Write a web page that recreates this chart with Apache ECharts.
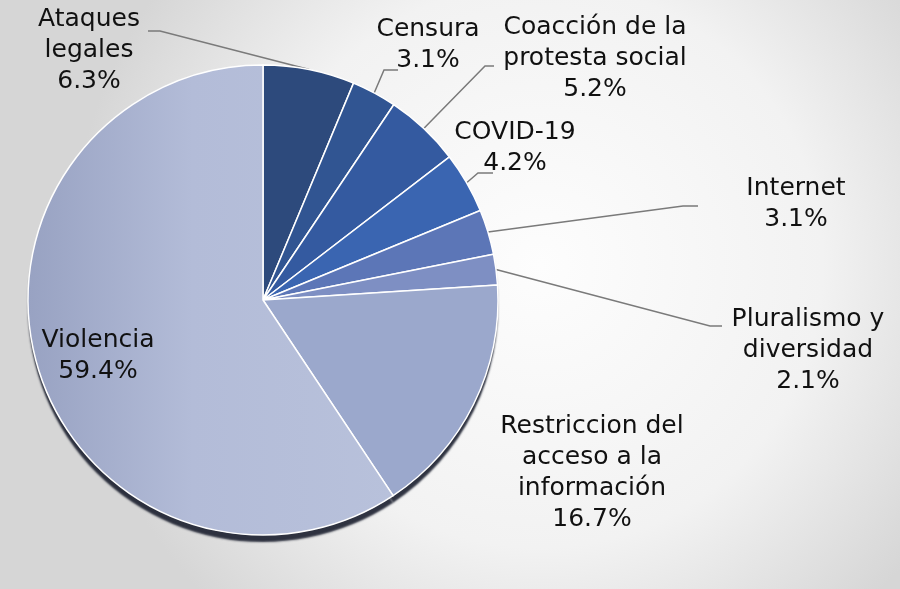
<!DOCTYPE html>
<html>
<head>
<meta charset="utf-8">
<script src="https://cdn.jsdelivr.net/npm/echarts@6/dist/echarts.min.js"></script>
<style>
  html, body { margin: 0; padding: 0; }
  #chart { width: 900px; height: 589px; }
</style>
</head>
<body>
<div id="chart"></div>
<script>
const categories = [
  'Ataques\nlegales',
  'Censura',
  'Coacción de la\nprotesta social',
  'COVID-19',
  'Internet',
  'Pluralismo y\ndiversidad',
  'Restriccion del\nacceso a la\ninformación',
  'Violencia'
]
const shares = [6.3, 3.1, 5.2, 4.2, 3.1, 2.1, 16.7, 59.4]

const colors = ['#2d4a7c', '#315592', '#345aa0', '#3a65b1', '#5c76b7', '#7e8fc3', '#9ba8cc', null]

// label placement: centre x / y and the bend + end of the leader line
const labelSpots = [
  { x: 89, y: 50, pts: [[160, 31], [148, 31]] },
  { x: 428, y: 45, pts: [[384, 70], [398, 70]] },
  { x: 595, y: 58, pts: [[485, 66], [494, 66]] },
  { x: 515, y: 148, pts: [[478, 173], [493, 173]] },
  { x: 796, y: 204, pts: [[683, 206], [698, 206]] },
  { x: 808, y: 350, pts: [[710, 326], [722, 326]] },
  { x: 592, y: 473, pts: null },
  { x: 98, y: 356, pts: null }
]

const violenciaFill = new echarts.graphic.LinearGradient(0, 0, 1, 0, [
  { offset: 0, color: '#98a2c2' },
  { offset: 0.45, color: '#b3bcd8' },
  { offset: 1, color: '#b8c1db' }
])

const PIE_CENTER = [263, 300]
const PIE_RADIUS = 235

const chart = echarts.init(document.getElementById('chart'), null, { renderer: 'canvas' })

chart.setOption({
  backgroundColor: new echarts.graphic.RadialGradient(0.6, 0.45, 0.8, [
    { offset: 0, color: '#fdfdfd' },
    { offset: 0.6, color: '#f2f2f2' },
    { offset: 1, color: '#d6d6d6' }
  ]),
  animation: false,
  series: [
    // backing disc, only there to cast the dark drop shadow under the pie
    {
      type: 'pie',
      center: PIE_CENTER,
      radius: PIE_RADIUS,
      startAngle: 90,
      silent: true,
      z: 1,
      label: { show: false },
      labelLine: { show: false },
      itemStyle: {
        color: '#a4aecb',
        borderWidth: 0,
        shadowColor: 'rgba(25,30,45,0.9)',
        shadowBlur: 2,
        shadowOffsetY: 7
      },
      data: categories.map((name, i) => ({ name, value: shares[i] }))
    },
    {
      type: 'pie',
      center: PIE_CENTER,
      radius: PIE_RADIUS,
      startAngle: 90,
      clockwise: true,
      z: 2,
      avoidLabelOverlap: false,
      itemStyle: {
        borderColor: '#ffffff',
        borderWidth: 1.5
      },
      label: {
        show: true,
        position: 'outside',
        fontFamily: 'DejaVu Sans',
        fontSize: 25,
        lineHeight: 31,
        color: '#111111',
        align: 'center',
        formatter: p => p.name + '\n' + p.value.toFixed(1) + '%'
      },
      labelLine: {
        show: true,
        lineStyle: { color: '#7a7a7a', width: 1.5 }
      },
      labelLayout: params => {
        const spot = labelSpots[params.dataIndex]
        const out = {
          x: spot.x,
          y: spot.y,
          align: 'center',
          verticalAlign: 'middle'
        }
        if (spot.pts && params.labelLinePoints) {
          out.labelLinePoints = [params.labelLinePoints[0]].concat(spot.pts)
        }
        return out
      },
      data: categories.map((name, i) => {
        const item = { name, value: shares[i] }
        if (i === 7) {
          item.itemStyle = { color: violenciaFill }
          item.labelLine = { show: false }
        } else {
          item.itemStyle = { color: colors[i] }
          if (i === 6) item.labelLine = { show: false }
        }
        return item
      })
    }
  ]
})
</script>
</body>
</html>
